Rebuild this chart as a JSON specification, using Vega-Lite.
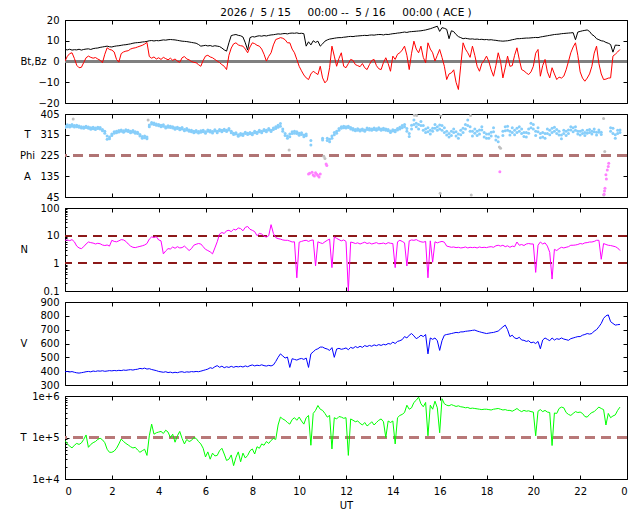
{
  "$schema": "https://vega.github.io/schema/vega-lite/v6.json",
  "padding": {"left": 18, "top": 7, "right": 6, "bottom": 2},
  "background": "white",
  "config": {
    "font": "DejaVu Sans",
    "view": {"stroke": "black", "strokeWidth": 1},
    "axis": {
      "domain": false, "grid": false, "tickColor": "black", "tickWidth": 1,
      "tickSize": -4, "labelPadding": 10, "labelFont": "DejaVu Sans", "labelFontSize": 10,
      "labelColor": "black", "titleFont": "DejaVu Sans", "titleFontSize": 10,
      "titleFontWeight": "normal", "titleColor": "black", "zindex": 1, "minExtent": 0
    }
  },
  "datasets": {
    "ace": [
      {"t":0,"bt":5.8,"bz":0.2,"phi":352,"p2":346,"n":6.8,"v":396,"tp":85000},
      {"t":0.1,"bt":5.6,"bz":2.5,"phi":358,"p2":350,"n":7.0,"v":398,"tp":70000},
      {"t":0.2,"bt":5.9,"bz":3.8,"phi":349,"p2":356,"n":6.6,"v":394,"tp":62000},
      {"t":0.3,"bt":5.5,"bz":4.2,"phi":360,"p2":352,"n":7.2,"v":397,"tp":56000},
      {"t":0.35,"phig":383},
      {"t":0.4,"bt":5.7,"bz":1.5,"phi":355,"p2":349,"n":6.0,"v":392,"tp":65000},
      {"t":0.5,"bt":5.6,"bz":-1.8,"phi":350,"p2":356,"n":4.2,"v":388,"tp":72000},
      {"t":0.6,"bt":5.9,"bz":-3.0,"phi":347,"p2":353,"n":3.6,"v":386,"tp":68000},
      {"t":0.7,"bt":5.5,"bz":-2.8,"phi":344,"p2":350,"n":3.4,"v":389,"tp":74000},
      {"t":0.8,"bt":5.8,"bz":-0.5,"phi":349,"p2":343,"n":4.0,"v":392,"tp":90000},
      {"t":0.9,"bt":6.0,"bz":1.8,"phi":346,"p2":352,"n":5.0,"v":396,"tp":115000},
      {"t":1.0,"bt":6.1,"bz":2.6,"phi":343,"p2":349,"n":5.9,"v":398,"tp":58000},
      {"t":1.1,"bt":5.8,"bz":2.0,"phi":345,"p2":339,"n":5.6,"v":395,"tp":68000},
      {"t":1.2,"bt":6.2,"bz":1.6,"phi":341,"p2":347,"n":5.4,"v":401,"tp":75000},
      {"t":1.3,"bt":6.4,"bz":1.9,"phi":344,"p2":338,"n":5.0,"v":398,"tp":80000},
      {"t":1.4,"bt":6.5,"bz":1.2,"phi":342,"p2":348,"n":5.3,"v":402,"tp":90000},
      {"t":1.5,"bt":6.8,"bz":0.6,"phi":340,"p2":346,"n":5.1,"v":400,"tp":96000},
      {"t":1.6,"bt":7.0,"bz":-0.6,"phi":338,"p2":332,"n":4.6,"v":403,"tp":88000},
      {"t":1.7,"bt":7.2,"bz":3.5,"phi":330,"p2":322,"n":4.4,"v":399,"tp":75000},
      {"t":1.8,"bt":7.4,"bz":6.6,"phi":296,"p2":310,"n":4.6,"v":401,"tp":52000},
      {"t":1.9,"bt":7.1,"bz":5.8,"phi":305,"p2":298,"n":4.2,"v":404,"tp":44000},
      {"t":2.0,"bt":7.0,"bz":5.5,"phi":318,"p2":312,"n":6.8,"v":402,"tp":44000},
      {"t":2.1,"bt":7.3,"bz":4.6,"phi":322,"p2":328,"n":6.2,"v":405,"tp":47000},
      {"t":2.2,"bt":7.5,"bz":1.0,"phi":324,"p2":330,"n":6.0,"v":403,"tp":55000},
      {"t":2.3,"bt":7.6,"bz":-0.3,"phi":327,"p2":333,"n":6.5,"v":406,"tp":70000},
      {"t":2.4,"bt":7.8,"bz":3.8,"phi":330,"p2":336,"n":7.2,"v":404,"tp":92000},
      {"t":2.5,"bt":8.0,"bz":4.6,"phi":332,"p2":326,"n":7.0,"v":408,"tp":80000},
      {"t":2.6,"bt":8.1,"bz":5.0,"phi":331,"p2":337,"n":6.2,"v":406,"tp":72000},
      {"t":2.7,"bt":8.3,"bz":5.2,"phi":329,"p2":335,"n":5.0,"v":409,"tp":66000},
      {"t":2.8,"bt":8.5,"bz":6.0,"phi":330,"p2":324,"n":4.2,"v":411,"tp":60000},
      {"t":2.9,"bt":8.8,"bz":6.4,"phi":327,"p2":333,"n":3.8,"v":408,"tp":56000},
      {"t":3.0,"bt":9.0,"bz":6.6,"phi":328,"p2":322,"n":3.7,"v":412,"tp":58000},
      {"t":3.1,"bt":9.1,"bz":7.0,"phi":320,"p2":326,"n":3.9,"v":414,"tp":50000},
      {"t":3.2,"bt":9.2,"bz":7.4,"phi":310,"p2":316,"n":4.1,"v":420,"tp":44000},
      {"t":3.3,"bt":9.4,"bz":7.8,"phi":307,"p2":300,"n":4.3,"v":417,"tp":48000},
      {"t":3.4,"bt":9.5,"bz":8.4,"phi":302,"p2":310,"n":4.6,"v":422,"tp":52000},
      {"t":3.5,"bt":9.7,"bz":9.2,"phi":298,"p2":305,"n":5.2,"v":415,"tp":37000},
      {"t":3.55,"phig":379},
      {"t":3.6,"bt":10.0,"bz":2.4,"phi":357,"p2":350,"n":7.5,"v":418,"tp":110000},
      {"t":3.7,"bt":10.1,"bz":1.6,"phi":362,"p2":368,"n":9.0,"v":412,"tp":210000},
      {"t":3.8,"bt":9.9,"bz":2.2,"phi":366,"p2":360,"n":8.6,"v":408,"tp":120000},
      {"t":3.9,"bt":10.1,"bz":1.2,"phi":362,"p2":356,"n":9.2,"v":404,"tp":130000},
      {"t":4.0,"bt":10.0,"bz":1.8,"phi":360,"p2":354,"n":7.0,"v":398,"tp":135000},
      {"t":4.1,"bt":10.2,"bz":1.0,"phi":356,"p2":350,"n":6.5,"v":395,"tp":140000},
      {"t":4.2,"bt":10.4,"bz":2.0,"phi":352,"p2":358,"n":2.2,"v":392,"tp":125000},
      {"t":4.3,"bt":10.3,"bz":1.4,"phi":350,"p2":344,"n":2.8,"v":396,"tp":150000},
      {"t":4.4,"bt":10.5,"bz":0.8,"phi":348,"p2":354,"n":3.4,"v":390,"tp":135000},
      {"t":4.5,"bt":10.6,"bz":1.6,"phi":346,"p2":352,"n":3.3,"v":393,"tp":100000},
      {"t":4.6,"bt":10.5,"bz":0.6,"phi":344,"p2":350,"n":3.9,"v":388,"tp":120000},
      {"t":4.7,"bt":10.4,"bz":1.2,"phi":345,"p2":339,"n":3.5,"v":392,"tp":77000},
      {"t":4.8,"bt":10.2,"bz":0.2,"phi":342,"p2":348,"n":4.0,"v":389,"tp":110000},
      {"t":4.9,"bt":10.0,"bz":-0.4,"phi":343,"p2":337,"n":3.6,"v":394,"tp":140000},
      {"t":5.0,"bt":9.8,"bz":1.8,"phi":340,"p2":346,"n":3.7,"v":396,"tp":95000},
      {"t":5.1,"bt":9.7,"bz":2.4,"phi":338,"p2":332,"n":4.2,"v":391,"tp":70000},
      {"t":5.2,"bt":9.6,"bz":1.2,"phi":336,"p2":342,"n":3.5,"v":395,"tp":90000},
      {"t":5.3,"bt":9.4,"bz":0.8,"phi":330,"p2":336,"n":2.9,"v":393,"tp":80000},
      {"t":5.4,"bt":9.2,"bz":0.0,"phi":328,"p2":334,"n":3.4,"v":397,"tp":85000},
      {"t":5.5,"bt":9.0,"bz":-0.4,"phi":330,"p2":324,"n":4.5,"v":395,"tp":100000},
      {"t":5.6,"bt":8.8,"bz":-0.6,"phi":327,"p2":333,"n":4.9,"v":398,"tp":95000},
      {"t":5.7,"bt":8.2,"bz":-1.5,"phi":329,"p2":323,"n":5.2,"v":396,"tp":80000},
      {"t":5.8,"bt":7.4,"bz":-2.3,"phi":326,"p2":332,"n":5.0,"v":400,"tp":70000},
      {"t":5.9,"bt":7.6,"bz":0.5,"phi":328,"p2":334,"n":4.0,"v":405,"tp":55000},
      {"t":6.0,"bt":7.8,"bz":2.6,"phi":328,"p2":322,"n":3.2,"v":410,"tp":34000},
      {"t":6.1,"bt":7.5,"bz":3.0,"phi":330,"p2":336,"n":2.9,"v":415,"tp":45000},
      {"t":6.2,"bt":7.7,"bz":2.2,"phi":327,"p2":333,"n":2.6,"v":425,"tp":30000},
      {"t":6.3,"bt":7.3,"bz":1.8,"phi":329,"p2":323,"n":2.2,"v":420,"tp":42000},
      {"t":6.4,"bt":7.6,"bz":1.0,"phi":331,"p2":337,"n":3.6,"v":432,"tp":36000},
      {"t":6.5,"bt":7.4,"bz":0.2,"phi":330,"p2":324,"n":6.0,"v":440,"tp":37000},
      {"t":6.6,"bt":7.2,"bz":-0.5,"phi":332,"p2":338,"n":11.5,"v":428,"tp":48000},
      {"t":6.7,"bt":6.5,"bz":-1.5,"phi":334,"p2":328,"n":13,"v":436,"tp":55000},
      {"t":6.8,"bt":5.6,"bz":-2.3,"phi":333,"p2":339,"n":12,"v":425,"tp":40000},
      {"t":6.9,"bt":5.0,"bz":-3.9,"phi":335,"p2":329,"n":15,"v":432,"tp":28000},
      {"t":7.0,"bt":9.0,"bz":3.0,"phi":336,"p2":342,"n":15.6,"v":427,"tp":30000},
      {"t":7.1,"bt":12.5,"bz":6.5,"phi":330,"p2":324,"n":14,"v":435,"tp":38000},
      {"t":7.2,"bt":12.8,"bz":8.5,"phi":322,"p2":316,"n":17,"v":428,"tp":21000},
      {"t":7.3,"bt":13.0,"bz":9.0,"phi":318,"p2":324,"n":16,"v":434,"tp":33000},
      {"t":7.4,"bt":12.6,"bz":8.0,"phi":315,"p2":309,"n":19,"v":431,"tp":45000},
      {"t":7.5,"bt":12.4,"bz":7.6,"phi":314,"p2":320,"n":18,"v":435,"tp":26000},
      {"t":7.6,"bt":11.8,"bz":7.4,"phi":318,"p2":312,"n":15,"v":430,"tp":42000},
      {"t":7.7,"bt":9.0,"bz":6.0,"phi":320,"p2":326,"n":20,"v":438,"tp":32000},
      {"t":7.8,"bt":5.5,"bz":4.2,"phi":322,"p2":316,"n":21.5,"v":432,"tp":37000},
      {"t":7.9,"bt":11.5,"bz":7.0,"phi":319,"p2":325,"n":17,"v":440,"tp":48000},
      {"t":8.0,"bt":12.0,"bz":9.0,"phi":321,"p2":315,"n":15.6,"v":445,"tp":53000},
      {"t":8.1,"bt":11.8,"bz":8.6,"phi":324,"p2":330,"n":14,"v":438,"tp":40000},
      {"t":8.2,"bt":12.2,"bz":7.8,"phi":326,"p2":320,"n":10,"v":443,"tp":60000},
      {"t":8.3,"bt":12.4,"bz":7.4,"phi":328,"p2":334,"n":12,"v":440,"tp":55000},
      {"t":8.4,"bt":12.2,"bz":6.0,"phi":330,"p2":324,"n":11.5,"v":446,"tp":70000},
      {"t":8.5,"bt":12.5,"bz":3.5,"phi":332,"p2":338,"n":9.5,"v":440,"tp":65000},
      {"t":8.6,"bt":12.3,"bz":0.2,"phi":334,"p2":328,"n":8.9,"v":437,"tp":80000},
      {"t":8.7,"bt":12.6,"bz":2.5,"phi":336,"p2":342,"n":10,"v":442,"tp":72000},
      {"t":8.8,"bt":12.8,"bz":4.2,"phi":335,"p2":329,"n":25,"v":438,"tp":85000},
      {"t":8.9,"bt":12.9,"bz":8.0,"phi":338,"p2":344,"n":12,"v":445,"tp":95000},
      {"t":9.0,"bt":13.1,"bz":10.6,"phi":342,"p2":350,"n":8.5,"v":470,"tp":90000},
      {"t":9.1,"bt":13.3,"bz":11.0,"phi":348,"p2":356,"n":7.8,"v":500,"tp":200000},
      {"t":9.2,"bt":13.2,"bz":11.5,"phi":364,"p2":352,"n":7.5,"v":525,"tp":310000},
      {"t":9.3,"bt":13.4,"bz":11.2,"phi":340,"p2":330,"n":7.0,"v":510,"tp":280000},
      {"t":9.4,"bt":13.5,"bz":10.5,"phi":320,"p2":312,"n":6.8,"v":495,"tp":260000},
      {"t":9.5,"bt":13.3,"bz":9.0,"phi":300,"p2":310,"n":6.8,"v":502,"tp":230000},
      {"t":9.57,"phig":249},
      {"t":9.6,"bt":13.6,"bz":9.0,"phi":318,"p2":306,"n":6.4,"v":427,"tp":210000},
      {"t":9.7,"bt":13.7,"bz":6.0,"phi":328,"p2":320,"n":5.9,"v":490,"tp":270000},
      {"t":9.8,"bt":13.6,"bz":4.2,"phi":322,"p2":330,"n":6.0,"v":485,"tp":300000},
      {"t":9.9,"bt":13.8,"bz":1.0,"phi":320,"p2":328,"n":0.3,"v":480,"tp":260000},
      {"t":10.0,"bt":13.5,"bz":-2.3,"phi":321,"p2":313,"n":5.8,"v":488,"tp":310000},
      {"t":10.1,"bt":13.6,"bz":-4.5,"phi":316,"p2":324,"n":6.2,"v":492,"tp":250000},
      {"t":10.2,"bt":13.4,"bz":-6.5,"phi":314,"p2":306,"n":6.6,"v":485,"tp":210000},
      {"t":10.3,"bt":7.4,"bz":-7.9,"phi":311,"p2":318,"n":6.8,"v":495,"tp":300000},
      {"t":10.4,"bt":9.5,"bz":-8.7,"phip":145,"n":6.2,"v":427,"tp":340000},
      {"t":10.45,"phip":148},
      {"t":10.5,"bt":8.0,"bz":-6.0,"phi":271,"p2":290,"n":6.8,"v":525,"tp":65000},
      {"t":10.55,"phip":152},
      {"t":10.6,"bt":10.0,"bz":-4.7,"phip":140,"n":7.0,"v":540,"tp":380000},
      {"t":10.65,"phip":136},
      {"t":10.7,"bt":9.2,"bz":-5.5,"phip":150,"n":0.8,"v":555,"tp":450000},
      {"t":10.75,"phip":144},
      {"t":10.8,"bt":9.8,"bz":-6.3,"phip":138,"n":6.0,"v":562,"tp":590000},
      {"t":10.85,"phip":132},
      {"t":10.9,"bt":7.4,"bz":-2.3,"phip":145,"n":5.5,"v":574,"tp":480000},
      {"t":11.0,"bt":8.5,"bz":-7.9,"phi":300,"p2":292,"n":5.2,"v":574,"tp":450000},
      {"t":11.05,"phig":222},
      {"t":11.1,"bt":9.8,"bz":-10.3,"phig":212,"n":6.0,"v":565,"tp":380000},
      {"t":11.15,"phip":188},
      {"t":11.18,"phip":182},
      {"t":11.2,"bt":10.4,"bz":-9.0,"phi":290,"p2":300,"n":6.8,"v":560,"tp":310000},
      {"t":11.3,"bt":10.8,"bz":-3.0,"phi":285,"p2":295,"n":7.5,"v":550,"tp":340000},
      {"t":11.4,"bt":11.0,"bz":7.4,"phi":300,"p2":310,"n":0.7,"v":570,"tp":53000},
      {"t":11.5,"bt":11.2,"bz":2.6,"phi":315,"p2":325,"n":9.0,"v":500,"tp":300000},
      {"t":11.6,"bt":11.4,"bz":-2.3,"phi":321,"p2":330,"n":8.0,"v":560,"tp":280000},
      {"t":11.7,"bt":11.5,"bz":1.5,"phi":335,"p2":342,"n":7.2,"v":565,"tp":320000},
      {"t":11.8,"bt":11.5,"bz":4.2,"phi":343,"p2":350,"n":6.5,"v":558,"tp":310000},
      {"t":11.9,"bt":11.7,"bz":-2.3,"phi":345,"p2":352,"n":7.0,"v":562,"tp":290000},
      {"t":12.0,"bt":11.8,"bz":-3.0,"phi":350,"p2":344,"n":6.2,"v":568,"tp":300000},
      {"t":12.1,"bt":12.0,"bz":-1.0,"phi":346,"p2":352,"n":0.1,"v":555,"tp":37000},
      {"t":12.2,"bt":12.1,"bz":1.0,"phi":340,"p2":346,"n":5.9,"v":572,"tp":280000},
      {"t":12.3,"bt":12.0,"bz":0.5,"phi":336,"p2":342,"n":5.6,"v":565,"tp":260000},
      {"t":12.4,"bt":12.2,"bz":-1.5,"phi":338,"p2":332,"n":5.2,"v":578,"tp":240000},
      {"t":12.5,"bt":12.3,"bz":-2.0,"phi":335,"p2":341,"n":5.5,"v":570,"tp":250000},
      {"t":12.6,"bt":12.4,"bz":-2.5,"phi":337,"p2":331,"n":5.0,"v":580,"tp":220000},
      {"t":12.7,"bt":12.5,"bz":-1.0,"phi":334,"p2":340,"n":5.4,"v":572,"tp":200000},
      {"t":12.8,"bt":12.6,"bz":-3.0,"phi":336,"p2":330,"n":5.8,"v":585,"tp":230000},
      {"t":12.9,"bt":12.5,"bz":-3.9,"phi":338,"p2":344,"n":5.2,"v":578,"tp":190000},
      {"t":13.0,"bt":12.7,"bz":-1.5,"phi":336,"p2":342,"n":5.5,"v":586,"tp":210000},
      {"t":13.1,"bt":12.8,"bz":0.5,"phi":340,"p2":334,"n":5.0,"v":580,"tp":240000},
      {"t":13.2,"bt":12.7,"bz":1.0,"phi":338,"p2":344,"n":5.3,"v":590,"tp":200000},
      {"t":13.3,"bt":12.9,"bz":-2.0,"phi":341,"p2":335,"n":5.6,"v":584,"tp":230000},
      {"t":13.4,"bt":13.0,"bz":-3.5,"phi":339,"p2":345,"n":5.1,"v":592,"tp":260000},
      {"t":13.5,"bt":13.0,"bz":-3.9,"phi":340,"p2":334,"n":5.2,"v":586,"tp":280000},
      {"t":13.6,"bt":12.8,"bz":-0.5,"phi":337,"p2":343,"n":5.4,"v":594,"tp":240000},
      {"t":13.7,"bt":13.1,"bz":1.8,"phi":334,"p2":340,"n":5.0,"v":590,"tp":100000},
      {"t":13.8,"bt":13.0,"bz":-1.0,"phi":332,"p2":338,"n":5.6,"v":600,"tp":250000},
      {"t":13.9,"bt":13.2,"bz":-4.7,"phi":331,"p2":325,"n":5.3,"v":596,"tp":230000},
      {"t":14.0,"bt":13.4,"bz":2.6,"phi":331,"p2":337,"n":5.2,"v":610,"tp":250000},
      {"t":14.1,"bt":13.5,"bz":1.0,"phi":334,"p2":328,"n":0.7,"v":600,"tp":70000},
      {"t":14.2,"bt":13.7,"bz":3.5,"phi":336,"p2":342,"n":6.0,"v":615,"tp":300000},
      {"t":14.3,"bt":13.8,"bz":4.2,"phi":340,"p2":348,"n":6.8,"v":620,"tp":340000},
      {"t":14.4,"bt":14.0,"bz":5.5,"phi":345,"p2":355,"n":6.2,"v":628,"tp":360000},
      {"t":14.5,"bt":14.2,"bz":7.4,"phi":350,"p2":360,"n":5.5,"v":650,"tp":400000},
      {"t":14.6,"bt":14.0,"bz":3.0,"phi":330,"p2":342,"n":0.8,"v":640,"tp":600000},
      {"t":14.7,"bt":14.3,"bz":-3.9,"phi":307,"p2":320,"n":6.5,"v":660,"tp":480000},
      {"t":14.8,"bt":14.4,"bz":4.0,"phi":340,"p2":356,"n":7.0,"v":672,"tp":520000},
      {"t":14.9,"bt":14.5,"bz":9.8,"phi":379,"p2":360,"n":6.8,"v":655,"tp":700000},
      {"t":14.92,"phig":400},
      {"t":15.0,"bt":14.6,"bz":6.0,"phi":365,"p2":350,"n":7.2,"v":635,"tp":790000},
      {"t":15.02,"phig":398},
      {"t":15.1,"bt":14.7,"bz":4.2,"phi":360,"p2":340,"n":6.5,"v":645,"tp":940000},
      {"t":15.2,"bt":14.8,"bz":7.4,"phi":372,"p2":355,"n":6.0,"v":660,"tp":650000},
      {"t":15.3,"bt":15.0,"bz":2.0,"phi":355,"p2":335,"n":5.8,"v":650,"tp":550000},
      {"t":15.4,"bt":15.2,"bz":-0.6,"phi":340,"p2":325,"n":6.2,"v":665,"tp":700000},
      {"t":15.5,"bt":15.5,"bz":9.0,"phi":328,"p2":345,"n":0.3,"v":525,"tp":110000},
      {"t":15.6,"bt":15.8,"bz":6.0,"phi":335,"p2":318,"n":6.5,"v":640,"tp":600000},
      {"t":15.7,"bt":16.2,"bz":4.2,"phi":343,"p2":330,"n":1.1,"v":630,"tp":480000},
      {"t":15.8,"bt":16.6,"bz":0.2,"phi":343,"p2":360,"n":6.0,"v":640,"tp":750000},
      {"t":15.9,"bt":17.0,"bz":3.0,"phi":350,"p2":335,"n":5.5,"v":620,"tp":520000},
      {"t":16.0,"bt":14.5,"bz":5.8,"phi":357,"p2":340,"n":5.9,"v":550,"tp":130000},
      {"t":16.02,"phig":61},
      {"t":16.05,"phig":400},
      {"t":16.1,"bt":16.3,"bz":2.0,"phi":355,"p2":335,"n":6.2,"v":620,"tp":860000},
      {"t":16.2,"bt":16.0,"bz":-2.3,"phi":345,"p2":325,"n":5.8,"v":660,"tp":650000},
      {"t":16.3,"bt":15.5,"bz":-8.7,"phi":314,"p2":330,"n":4.2,"v":665,"tp":600000},
      {"t":16.4,"bt":11.0,"bz":-6.0,"phi":320,"p2":305,"n":4.0,"v":668,"tp":580000},
      {"t":16.5,"bt":14.8,"bz":-5.5,"phi":330,"p2":312,"n":3.8,"v":672,"tp":620000},
      {"t":16.6,"bt":14.4,"bz":-4.0,"phi":325,"p2":340,"n":3.9,"v":676,"tp":590000},
      {"t":16.7,"bt":13.0,"bz":-10.0,"phi":310,"p2":328,"n":3.7,"v":680,"tp":560000},
      {"t":16.8,"bt":12.0,"bz":-13.5,"phi":300,"p2":318,"n":3.8,"v":678,"tp":580000},
      {"t":16.9,"bt":11.5,"bz":-2.0,"phi":335,"p2":315,"n":3.6,"v":684,"tp":550000},
      {"t":17.0,"bt":11.0,"bz":9.0,"phi":343,"p2":325,"n":3.7,"v":684,"tp":540000},
      {"t":17.1,"bt":11.2,"bz":6.0,"phi":360,"p2":340,"n":3.9,"v":688,"tp":520000},
      {"t":17.2,"bt":11.0,"bz":4.2,"phi":379,"p2":355,"n":3.6,"v":690,"tp":530000},
      {"t":17.3,"bt":10.8,"bz":2.0,"phi":350,"p2":330,"n":3.8,"v":692,"tp":500000},
      {"t":17.32,"phig":398},
      {"t":17.35,"phig":54},
      {"t":17.4,"bt":10.9,"bz":7.4,"phi":330,"p2":310,"n":3.7,"v":695,"tp":510000},
      {"t":17.5,"bt":10.7,"bz":3.0,"phi":321,"p2":340,"n":3.8,"v":697,"tp":500000},
      {"t":17.6,"bt":10.8,"bz":-2.3,"phi":330,"p2":312,"n":3.6,"v":690,"tp":490000},
      {"t":17.7,"bt":10.6,"bz":-4.7,"phi":336,"p2":318,"n":3.9,"v":685,"tp":480000},
      {"t":17.8,"bt":10.7,"bz":-1.0,"phi":336,"p2":350,"n":3.7,"v":680,"tp":470000},
      {"t":17.9,"bt":10.5,"bz":0.5,"phi":325,"p2":305,"n":3.8,"v":676,"tp":480000},
      {"t":18.0,"bt":10.6,"bz":2.6,"phi":300,"p2":318,"n":3.7,"v":672,"tp":480000},
      {"t":18.1,"bt":10.4,"bz":0.0,"phi":318,"p2":300,"n":3.9,"v":675,"tp":470000},
      {"t":18.2,"bt":10.5,"bz":-4.0,"phi":326,"p2":310,"n":4.0,"v":678,"tp":460000},
      {"t":18.3,"bt":10.3,"bz":-7.1,"phi":328,"p2":345,"n":3.8,"v":680,"tp":480000},
      {"t":18.4,"bt":10.2,"bz":-2.0,"phi":310,"p2":292,"n":4.3,"v":685,"tp":490000},
      {"t":18.5,"bt":10.0,"bz":4.2,"phi":285,"p2":305,"n":4.5,"v":690,"tp":500000},
      {"t":18.55,"phig":262},
      {"t":18.57,"phip":155},
      {"t":18.6,"bt":9.9,"bz":0.0,"phig":256,"n":4.2,"v":705,"tp":480000},
      {"t":18.7,"bt":9.8,"bz":-7.9,"phi":330,"p2":312,"n":4.5,"v":720,"tp":460000},
      {"t":18.8,"bt":9.9,"bz":-3.0,"phi":350,"p2":332,"n":4.0,"v":733,"tp":470000},
      {"t":18.9,"bt":10.0,"bz":2.6,"phi":335,"p2":352,"n":4.3,"v":700,"tp":450000},
      {"t":19.0,"bt":10.2,"bz":-2.3,"phi":314,"p2":330,"n":3.8,"v":650,"tp":450000},
      {"t":19.1,"bt":10.5,"bz":-2.0,"phi":325,"p2":345,"n":4.2,"v":660,"tp":430000},
      {"t":19.2,"bt":10.7,"bz":3.0,"phi":335,"p2":315,"n":4.0,"v":640,"tp":460000},
      {"t":19.3,"bt":11.0,"bz":6.6,"phi":343,"p2":325,"n":5.9,"v":635,"tp":500000},
      {"t":19.4,"bt":11.0,"bz":1.0,"phi":330,"p2":350,"n":4.5,"v":645,"tp":450000},
      {"t":19.5,"bt":11.1,"bz":-3.9,"phi":320,"p2":340,"n":4.8,"v":625,"tp":420000},
      {"t":19.6,"bt":11.2,"bz":-4.5,"phi":307,"p2":325,"n":4.4,"v":623,"tp":450000},
      {"t":19.7,"bt":11.3,"bz":-5.5,"phi":325,"p2":305,"n":5.0,"v":615,"tp":430000},
      {"t":19.8,"bt":11.3,"bz":-6.3,"phi":340,"p2":322,"n":5.2,"v":620,"tp":440000},
      {"t":19.9,"bt":11.4,"bz":-5.0,"phi":365,"p2":345,"n":5.0,"v":605,"tp":420000},
      {"t":20.0,"bt":11.5,"bz":-2.3,"phi":340,"p2":360,"n":5.0,"v":610,"tp":410000},
      {"t":20.1,"bt":11.6,"bz":4.0,"phi":330,"p2":312,"n":0.47,"v":600,"tp":110000},
      {"t":20.2,"bt":11.5,"bz":5.8,"phi":328,"p2":345,"n":4.5,"v":615,"tp":430000},
      {"t":20.3,"bt":11.8,"bz":-7.1,"phi":320,"p2":302,"n":5.9,"v":562,"tp":470000},
      {"t":20.4,"bt":12.0,"bz":-2.0,"phi":305,"p2":325,"n":5.0,"v":625,"tp":420000},
      {"t":20.5,"bt":12.2,"bz":1.0,"phi":300,"p2":320,"n":5.5,"v":640,"tp":450000},
      {"t":20.6,"bt":12.4,"bz":-5.0,"phi":320,"p2":340,"n":4.2,"v":630,"tp":410000},
      {"t":20.7,"bt":12.6,"bz":-7.9,"phi":335,"p2":315,"n":2.5,"v":620,"tp":400000},
      {"t":20.8,"bt":12.8,"bz":-3.0,"phi":343,"p2":325,"n":0.27,"v":640,"tp":64000},
      {"t":20.9,"bt":13.0,"bz":-6.0,"phi":330,"p2":348,"n":3.2,"v":625,"tp":390000},
      {"t":21.0,"bt":13.1,"bz":-8.7,"phi":320,"p2":338,"n":2.9,"v":635,"tp":380000},
      {"t":21.1,"bt":13.2,"bz":-7.5,"phi":314,"p2":330,"n":3.4,"v":630,"tp":500000},
      {"t":21.2,"bt":13.4,"bz":-8.0,"phi":314,"p2":298,"n":3.8,"v":640,"tp":540000},
      {"t":21.3,"bt":13.5,"bz":-7.1,"phi":320,"p2":335,"n":3.6,"v":632,"tp":520000},
      {"t":21.4,"bt":13.6,"bz":-4.0,"phi":330,"p2":312,"n":3.8,"v":628,"tp":400000},
      {"t":21.5,"bt":13.7,"bz":0.0,"phi":336,"p2":320,"n":4.0,"v":623,"tp":360000},
      {"t":21.6,"bt":13.8,"bz":4.2,"phi":336,"p2":350,"n":4.5,"v":635,"tp":340000},
      {"t":21.7,"bt":13.9,"bz":7.0,"phi":345,"p2":328,"n":4.5,"v":640,"tp":380000},
      {"t":21.8,"bt":10.5,"bz":9.0,"phi":350,"p2":335,"n":4.6,"v":645,"tp":420000},
      {"t":21.9,"bt":14.2,"bz":3.0,"phi":330,"p2":318,"n":4.8,"v":650,"tp":400000},
      {"t":22.0,"bt":14.5,"bz":-5.0,"phi":314,"p2":330,"n":5.2,"v":650,"tp":410000},
      {"t":22.1,"bt":14.8,"bz":-8.0,"phi":320,"p2":334,"n":5.0,"v":660,"tp":380000},
      {"t":22.2,"bt":15.0,"bz":-9.5,"phi":325,"p2":312,"n":5.5,"v":665,"tp":320000},
      {"t":22.3,"bt":15.2,"bz":-8.0,"phi":321,"p2":335,"n":5.6,"v":672,"tp":310000},
      {"t":22.4,"bt":14.5,"bz":-6.0,"phi":325,"p2":338,"n":5.9,"v":668,"tp":360000},
      {"t":22.5,"bt":13.0,"bz":-2.3,"phi":330,"p2":318,"n":5.9,"v":672,"tp":400000},
      {"t":22.6,"bt":12.3,"bz":4.0,"phi":328,"p2":340,"n":6.2,"v":690,"tp":420000},
      {"t":22.7,"bt":11.0,"bz":7.4,"phi":326,"p2":314,"n":6.8,"v":700,"tp":480000},
      {"t":22.8,"bt":10.5,"bz":-1.0,"phi":326,"p2":336,"n":6.8,"v":721,"tp":540000},
      {"t":22.9,"bt":10.0,"bz":-6.0,"phi":326,"p2":316,"n":1.4,"v":745,"tp":500000},
      {"t":23.0,"bt":9.8,"bz":-8.7,"phig":386,"n":5.2,"v":782,"tp":470000},
      {"t":23.01,"phig":54},
      {"t":23.02,"phip":57},
      {"t":23.04,"phip":71},
      {"t":23.05,"phig":242},
      {"t":23.06,"phip":83},
      {"t":23.1,"bt":9.2,"bz":-8.5,"phip":141,"n":4.8,"v":800,"tp":200000},
      {"t":23.12,"phip":123},
      {"t":23.16,"phip":162},
      {"t":23.2,"bt":8.8,"bz":-8.0,"phip":177,"n":4.5,"v":807,"tp":380000},
      {"t":23.22,"phip":191},
      {"t":23.3,"bt":8.2,"bz":-7.9,"phi":330,"p2":345,"n":4.4,"v":758,"tp":300000},
      {"t":23.4,"bt":4.5,"bz":2.6,"phi":343,"p2":320,"n":4.2,"v":745,"tp":330000},
      {"t":23.5,"bt":7.9,"bz":3.5,"phi":300,"p2":315,"n":4.0,"v":733,"tp":350000},
      {"t":23.6,"bt":7.8,"bz":4.6,"phi":320,"p2":335,"n":3.6,"v":736,"tp":450000},
      {"t":23.7,"bt":7.7,"bz":5.8,"phi":336,"p2":325,"n":2.9,"v":738,"tp":540000}
    ]
  },
  "data": {"name": "ace"},
  "bounds": "flush",
  "spacing": 11,
  "vconcat": [
    {
      "width": 562, "height": 83,
      "title": {"text": "2026 /\u00a0 5 / 15 \u00a0\u00a0\u00a0 00:00 -- \u00a05 / 16 \u00a0\u00a0\u00a0 00:00 ( ACE )", "fontSize": 10.5, "fontWeight": "normal", "font": "DejaVu Sans", "color": "black", "anchor": "middle", "offset": -3},
      "layer": [
        {"mark": {"type": "rule", "color": "#808080", "strokeWidth": 2.2}, "encoding": {"y": {"datum": 0, "type": "quantitative", "axis": null}}},
        {
          "transform": [{"filter": "isValid(datum.bt)"}],
          "mark": {"type": "line", "color": "black", "strokeWidth": 1, "clip": true},
          "encoding": {
            "x": {"field": "t", "type": "quantitative", "scale": {"domain": [0, 24], "nice": false, "zero": false}, "axis": {"orient": "bottom", "values": [0,2,4,6,8,10,12,14,16,18,20,22,24], "labels": false, "title": null}},
            "y": {"field": "bt", "type": "quantitative", "scale": {"domain": [-20, 20], "nice": false, "zero": false}, "axis": {"orient": "left", "values": [-20,-10,0,10,20], "title": "Bt,Bz", "titleAngle": 0, "titleAlign": "left", "titleBaseline": "middle", "titleX": -45, "titleY": 41.5}}
          }
        },
        {
          "transform": [{"filter": "isValid(datum.bz)"}],
          "mark": {"type": "line", "color": "#ff0000", "strokeWidth": 1, "clip": true},
          "encoding": {
            "x": {"field": "t", "type": "quantitative", "axis": {"orient": "top", "values": [0,2,4,6,8,10,12,14,16,18,20,22,24], "labels": false, "title": null}},
            "y": {"field": "bz", "type": "quantitative", "axis": {"orient": "right", "values": [-20,-10,0,10,20], "labels": false, "title": null}}
          }
        }
      ],
      "resolve": {"axis": {"x": "independent", "y": "independent"}}
    },
    {
      "width": 562, "height": 83,
      "layer": [
        {"mark": {"type": "rule", "color": "#b07474", "strokeWidth": 2.5, "strokeDash": [10, 6]}, "encoding": {"y": {"datum": 225, "type": "quantitative", "axis": null}}},
        {
          "transform": [{"fold": ["phi", "p2", "phip", "phig"], "as": ["k", "phiv"]}, {"filter": "isValid(datum.phiv)"}],
          "mark": {"type": "point", "filled": true, "size": 9, "opacity": 1, "clip": true},
          "encoding": {
            "x": {"field": "t", "type": "quantitative", "scale": {"domain": [0, 24], "nice": false, "zero": false}, "axis": {"orient": "bottom", "values": [0,2,4,6,8,10,12,14,16,18,20,22,24], "labels": false, "title": null}},
            "y": {"field": "phiv", "type": "quantitative", "scale": {"domain": [45, 405], "nice": false, "zero": false}, "axis": {"orient": "left", "values": [45,135,225,315,405], "title": ["T", "Phi", "A"], "titleAngle": 0, "titleAlign": "center", "titleBaseline": "middle", "titleLineHeight": 21, "titleX": -38, "titleY": 20.75}},
            "color": {"field": "k", "type": "nominal", "scale": {"domain": ["phi", "p2", "phip", "phig"], "range": ["#87cefa", "#87cefa", "#ff80ff", "#c0c0c0"]}, "legend": null}
          }
        },
        {
          "transform": [{"filter": "isValid(datum.phi)"}],
          "mark": {"type": "point", "opacity": 0},
          "encoding": {
            "x": {"field": "t", "type": "quantitative", "axis": {"orient": "top", "values": [0,2,4,6,8,10,12,14,16,18,20,22,24], "labels": false, "title": null}},
            "y": {"field": "phi", "type": "quantitative", "axis": {"orient": "right", "values": [45,135,225,315,405], "labels": false, "title": null}}
          }
        }
      ],
      "resolve": {"axis": {"x": "independent", "y": "independent"}}
    },
    {
      "width": 562, "height": 83,
      "layer": [
        {"mark": {"type": "rule", "color": "#8b1a1a", "strokeWidth": 1.2, "strokeDash": [9, 6]}, "encoding": {"y": {"datum": 1, "type": "quantitative", "axis": null}}},
        {"mark": {"type": "rule", "color": "#8b1a1a", "strokeWidth": 1.2, "strokeDash": [9, 6]}, "encoding": {"y": {"datum": 10, "type": "quantitative", "axis": null}}},
        {
          "transform": [{"filter": "isValid(datum.n)"}],
          "mark": {"type": "line", "color": "#ff00ff", "strokeWidth": 1, "clip": true},
          "encoding": {
            "x": {"field": "t", "type": "quantitative", "scale": {"domain": [0, 24], "nice": false, "zero": false}, "axis": {"orient": "bottom", "values": [0,2,4,6,8,10,12,14,16,18,20,22,24], "labels": false, "title": null}},
            "y": {"field": "n", "type": "quantitative", "scale": {"type": "log", "domain": [0.1, 100], "nice": false}, "axis": {"orient": "left", "values": [0.1, 1, 10, 100], "format": "~g", "title": "N", "titleAngle": 0, "titleAlign": "left", "titleBaseline": "middle", "titleX": -45, "titleY": 41.5}}
          }
        },
        {
          "transform": [{"filter": "isValid(datum.n)"}],
          "mark": {"type": "point", "opacity": 0},
          "encoding": {
            "x": {"field": "t", "type": "quantitative", "axis": {"orient": "top", "values": [0,2,4,6,8,10,12,14,16,18,20,22,24], "labels": false, "title": null}},
            "y": {"field": "n", "type": "quantitative", "axis": {"orient": "right", "values": [0.1, 1, 10, 100], "labels": false, "title": null}}
          }
        },
        {
          "transform": [{"filter": "isValid(datum.n)"}],
          "mark": {"type": "point", "opacity": 0},
          "encoding": {
            "y": {"field": "n", "type": "quantitative", "axis": {"orient": "left", "values": [0.2,0.3,0.4,0.5,0.6,0.7,0.8,0.9,2,3,4,5,6,7,8,9,20,30,40,50,60,70,80,90], "tickSize": -2, "labels": false, "title": null}}
          }
        }
      ],
      "resolve": {"axis": {"x": "independent", "y": "independent"}}
    },
    {
      "width": 562, "height": 83,
      "layer": [
        {
          "transform": [{"filter": "isValid(datum.v)"}],
          "mark": {"type": "line", "color": "#0000ff", "strokeWidth": 1, "clip": true},
          "encoding": {
            "x": {"field": "t", "type": "quantitative", "scale": {"domain": [0, 24], "nice": false, "zero": false}, "axis": {"orient": "bottom", "values": [0,2,4,6,8,10,12,14,16,18,20,22,24], "labels": false, "title": null}},
            "y": {"field": "v", "type": "quantitative", "scale": {"domain": [300, 900], "nice": false, "zero": false}, "axis": {"orient": "left", "values": [300,400,500,600,700,800,900], "title": "V", "titleAngle": 0, "titleAlign": "left", "titleBaseline": "middle", "titleX": -45, "titleY": 41.5}}
          }
        },
        {
          "transform": [{"filter": "isValid(datum.v)"}],
          "mark": {"type": "point", "opacity": 0},
          "encoding": {
            "x": {"field": "t", "type": "quantitative", "axis": {"orient": "top", "values": [0,2,4,6,8,10,12,14,16,18,20,22,24], "labels": false, "title": null}},
            "y": {"field": "v", "type": "quantitative", "axis": {"orient": "right", "values": [300,400,500,600,700,800,900], "labels": false, "title": null}}
          }
        }
      ],
      "resolve": {"axis": {"x": "independent", "y": "independent"}}
    },
    {
      "width": 562, "height": 83,
      "layer": [
        {"mark": {"type": "rule", "color": "#b87878", "strokeWidth": 2.5, "strokeDash": [10, 6]}, "encoding": {"y": {"datum": 100000, "type": "quantitative", "axis": null}}},
        {
          "transform": [{"filter": "isValid(datum.tp)"}],
          "mark": {"type": "line", "color": "#00ff00", "strokeWidth": 1, "clip": true},
          "encoding": {
            "x": {"field": "t", "type": "quantitative", "scale": {"domain": [0, 24], "nice": false, "zero": false}, "axis": {"orient": "bottom", "values": [0,2,4,6,8,10,12,14,16,18,20,22,24], "labelExpr": "datum.value == 24 ? '0' : datum.label", "labelPadding": 11, "title": "UT", "titlePadding": 4}},
            "y": {"field": "tp", "type": "quantitative", "scale": {"type": "log", "domain": [10000, 1000000], "nice": false}, "axis": {"orient": "left", "values": [10000, 100000, 1000000], "labelExpr": "datum.value == 1000000 ? '1e+6' : datum.value == 100000 ? '1e+5' : '1e+4'", "title": "T", "titleAngle": 0, "titleAlign": "left", "titleBaseline": "middle", "titleX": -45, "titleY": 41.5}}
          }
        },
        {
          "transform": [{"filter": "isValid(datum.tp)"}],
          "mark": {"type": "point", "opacity": 0},
          "encoding": {
            "x": {"field": "t", "type": "quantitative", "axis": {"orient": "top", "values": [0,2,4,6,8,10,12,14,16,18,20,22,24], "labels": false, "title": null}},
            "y": {"field": "tp", "type": "quantitative", "axis": {"orient": "right", "values": [10000, 100000, 1000000], "labels": false, "title": null}}
          }
        },
        {
          "transform": [{"filter": "isValid(datum.tp)"}],
          "mark": {"type": "point", "opacity": 0},
          "encoding": {
            "y": {"field": "tp", "type": "quantitative", "axis": {"orient": "left", "values": [20000,30000,40000,50000,60000,70000,80000,90000,200000,300000,400000,500000,600000,700000,800000,900000], "tickSize": -2, "labels": false, "title": null}}
          }
        }
      ],
      "resolve": {"axis": {"x": "independent", "y": "independent"}}
    }
  ]
}
